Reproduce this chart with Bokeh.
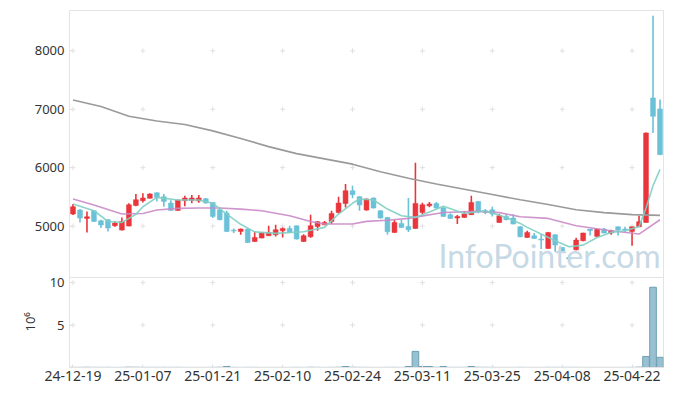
import numpy as np
from bokeh.plotting import figure
from bokeh.models import Range1d, FixedTicker, Label, Span, Title
from bokeh.embed import file_html
from bokeh.resources import INLINE

# ---- data ----
tick_idx = [0, 10, 20, 30, 40, 50, 60, 70, 80]
tick_labels = ["24-12-19", "25-01-07", "25-01-21", "25-02-10", "25-02-24",
               "25-03-11", "25-03-25", "25-04-08", "25-04-22"]
price_ticks = [5000, 6000, 7000, 8000]
vol_ticks = [5, 10]

opens = [5206, 5274, 5130, 5262, 5091, 5108, 5005, 4931, 5000, 5353,
         5434, 5474, 5571, 5502, 5394, 5268, 5434, 5440, 5428, 5468,
         5405, 5279, 5222, 4930, 4908, 4949, 4736, 4794, 4834, 4851,
         4920, 4960, 5005, 4736, 4817, 4993, 5022, 5079, 5233, 5388,
         5605, 5502, 5274, 5480, 5262, 5148, 4891, 5045, 4993, 4960,
         5233, 5348, 5388, 5309, 5194, 5137, 5148, 5194, 5422, 5262,
         5279, 5062, 5165, 5137, 4988, 4805, 4834, 4777, 4617, 4851,
         4633, 4462, 4593, 4748, 4948, 4823, 4948, 4880, 4988, 4948,
         4908, 4988, 5062, 7194, 7006]
highs = [5377, 5290, 5250, 5270, 5110, 5115, 5080, 5148, 5390, 5549,
         5560, 5560, 5575, 5549, 5440, 5450, 5520, 5530, 5530, 5480,
         5410, 5319, 5260, 4960, 4960, 4960, 4908, 4890, 5005, 5022,
         4975, 5005, 5010, 4860, 5194, 5085, 5085, 5262, 5502, 5720,
         5690, 5510, 5470, 5490, 5270, 5155, 5108, 5108, 5480, 6085,
         5400, 5410, 5410, 5330, 5220, 5190, 5250, 5520, 5430, 5290,
         5330, 5205, 5205, 5200, 4995, 4920, 4880, 4863, 4895, 4860,
         4640, 4500, 4800, 4885, 4950, 4950, 4965, 4935, 4992, 4990,
         4990, 5177, 6600, 8600, 7166]
lows = [5190, 5062, 4890, 5070, 4966, 4908, 4990, 4925, 4995, 5340,
        5405, 5470, 5422, 5331, 5260, 5262, 5337, 5390, 5400, 5380,
        5137, 5100, 4900, 4880, 4851, 4710, 4730, 4790, 4830, 4820,
        4805, 4885, 4770, 4730, 4800, 4920, 5015, 5034, 5216, 5319,
        5475, 5262, 5260, 5300, 5130, 4850, 4885, 4970, 4900, 4955,
        5200, 5320, 5300, 5160, 5125, 5034, 5140, 5190, 5220, 5200,
        5165, 5055, 5100, 5030, 4810, 4800, 4780, 4605, 4610, 4560,
        4540, 4400, 4585, 4740, 4840, 4818, 4875, 4850, 4840, 4895,
        4662, 4985, 5055, 6594, 6220]
closes = [5331, 5137, 5160, 5079, 5017, 4966, 5051, 5079, 5365, 5451,
          5480, 5549, 5491, 5422, 5268, 5446, 5480, 5480, 5480, 5394,
          5165, 5108, 4908, 4915, 4949, 4719, 4805, 4885, 4890, 4937,
          4960, 4891, 4777, 4834, 5005, 5074, 5062, 5216, 5394, 5605,
          5537, 5360, 5463, 5309, 5137, 4903, 5062, 4977, 4937, 5388,
          5365, 5377, 5309, 5165, 5131, 5165, 5205, 5405, 5245, 5233,
          5205, 5177, 5108, 5034, 4817, 4891, 4788, 4760, 4891, 4674,
          4548, 4434, 4760, 4880, 4920, 4948, 4880, 4920, 4931, 4931,
          4988, 5074, 6594, 6880, 6223]
# volume in millions of shares
volumes = [0.02, 0.02, 0.03, 0.02, 0.02, 0.02, 0.01, 0.02, 0.04, 0.03,
           0.02, 0.02, 0.02, 0.02, 0.02, 0.02, 0.01, 0.01, 0.01, 0.01,
           0.02, 0.03, 0.12, 0.02, 0.01, 0.02, 0.02, 0.01, 0.01, 0.01,
           0.01, 0.01, 0.02, 0.01, 0.03, 0.02, 0.01, 0.02, 0.03, 0.12,
           0.03, 0.02, 0.02, 0.01, 0.01, 0.02, 0.02, 0.01, 0.12, 1.90,
           0.12, 0.12, 0.03, 0.12, 0.02, 0.02, 0.02, 0.12, 0.03, 0.02,
           0.02, 0.01, 0.01, 0.01, 0.02, 0.01, 0.01, 0.01, 0.02, 0.02,
           0.02, 0.02, 0.02, 0.01, 0.01, 0.01, 0.01, 0.01, 0.01, 0.01,
           0.02, 0.04, 1.30, 9.45, 1.20]

ma5_idx = [0, 3, 5, 7, 9, 10, 12, 15, 18, 20, 22, 24, 26, 29, 33, 36, 38,
           40, 41, 43, 45, 47, 49, 51, 53, 56, 59, 62, 64, 65, 69, 71, 73,
           75, 77, 79, 81, 82, 83, 84]
ma5_val = [5377, 5262, 5079, 5062, 5200, 5330, 5491, 5446, 5446, 5390, 5206,
           5030, 4900, 4874, 4903, 4977, 5206, 5390, 5463, 5446, 5291, 5177,
           5148, 5240, 5340, 5216, 5262, 5148, 5045, 4977, 4748, 4645, 4674,
           4805, 4891, 4920, 4990, 5310, 5690, 5970]
ma20_idx = [0, 3, 7, 10, 12, 15, 18, 21, 24, 27, 31, 34, 36, 40, 42, 45,
            48, 53, 58, 61, 64, 68, 72, 77, 81, 84]
ma20_val = [5463, 5360, 5206, 5216, 5274, 5302, 5309, 5309, 5290, 5262, 5177,
            5079, 5034, 5034, 5080, 5100, 5131, 5233, 5251, 5230, 5160, 5131,
            5005, 4920, 4863, 5108]
ma60_idx = [0, 4, 8, 12, 16, 20, 24, 28, 32, 36, 40, 44, 48, 52, 56, 60, 64,
            68, 72, 76, 80, 84]
ma60_val = [7157, 7046, 6880, 6800, 6740, 6630, 6500, 6360, 6240, 6150, 6060,
            5930, 5820, 5720, 5630, 5540, 5450, 5370, 5280, 5230, 5195, 5182]

# ---- styling / layout ----
RED = "#E9353B"
BLUE = "#6AC1D8"
FONT = "Noto Sans"
TXT = "#333333"
GRIDC = "#e0e0e0"
FRAMEC = "#e4e4e4"

PRICE_LO, PRICE_HI = 4119, 8691      # visible price band (upper panel)
VOL_HI = 10.6                        # visible volume band (lower panel)
PRICE_PX, VOL_PX = 267, 90           # pixel heights of the two panels

n = len(opens)
idx = np.arange(n)
o = np.array(opens, float)
c = np.array(closes, float)
colors = [RED if cc >= oo else BLUE for oo, cc in zip(o, c)]
body_top = np.maximum(o, c)
body_bot = np.minimum(o, c)

# one frame, two stacked panels: the price range is extended downwards and
# the volume range upwards so each occupies its own band of the frame
total_px = PRICE_PX + VOL_PX
p_full_lo = PRICE_LO - (PRICE_HI - PRICE_LO) * VOL_PX / PRICE_PX
v_full_hi = VOL_HI * total_px / VOL_PX

p = figure(width=665, height=390, x_range=Range1d(-0.5, n - 0.5),
           y_range=Range1d(p_full_lo, PRICE_HI),
           output_backend="svg", toolbar_location=None,
           min_border_left=69, min_border_right=2, min_border_top=10,
           min_border_bottom=23)
p.extra_y_ranges = {"vol": Range1d(0, v_full_hi)}
p.outline_line_color = FRAMEC
p.xgrid.grid_line_color = None
p.ygrid.grid_line_color = None

def vol_to_price(vv):
    return p_full_lo + (np.asarray(vv, float) / v_full_hi) * (PRICE_HI - p_full_lo)

# left axis: price ticks above, volume ticks (mapped) below
vt_pos = [float(x) for x in vol_to_price(vol_ticks)]
yax = p.yaxis[0]
yax.ticker = FixedTicker(ticks=vt_pos + price_ticks)
yax.major_label_overrides = {**{pos: str(t) for pos, t in zip(vt_pos, vol_ticks)},
                             **{t: str(t) for t in price_ticks}}
xax = p.xaxis[0]
xax.ticker = FixedTicker(ticks=tick_idx)
xax.major_label_overrides = {t: l for t, l in zip(tick_idx, tick_labels)}
xax.major_label_standoff = 3
for ax, fs in ((yax, "13px"), (xax, "14px")):
    ax.major_label_text_font = FONT
    ax.major_label_text_font_size = fs
    ax.major_label_text_color = TXT
    ax.axis_line_color = FRAMEC
    ax.major_tick_line_color = GRIDC
    ax.major_tick_out = 0
    ax.major_tick_in = 3
    ax.minor_tick_line_color = None

# volume unit label (vertical, beside the lower panel)
p.add_layout(Title(text="10\u2076", align="left", offset=36,
                   text_font=FONT, text_font_size="13px",
                   text_font_style="normal", text_color=TXT,
                   standoff=-15), "left")

# panel separator
p.add_layout(Span(location=PRICE_LO, dimension="width", line_color=FRAMEC,
                  line_width=1))

# grid crosses
gx, gy = np.meshgrid(tick_idx, price_ticks)
p.scatter(gx.ravel(), gy.ravel(), marker="cross", size=5, line_color=GRIDC)
vx, vy = np.meshgrid(tick_idx, vol_ticks)
p.scatter(vx.ravel(), vy.ravel(), marker="cross", size=5, line_color=GRIDC,
          y_range_name="vol")

# candles
p.segment(x0=idx, y0=lows, x1=idx, y1=highs, line_color=colors, line_width=1.6)
p.vbar(x=idx, width=0.7, top=body_top, bottom=body_bot, fill_color=colors,
       line_color=colors, line_width=0.5)

# moving averages
p.line(ma60_idx, ma60_val, line_color="#9a9a9a", line_width=1.6)
p.line(ma20_idx, ma20_val, line_color="#C98BC8", line_width=1.6, line_alpha=0.9)
p.line(ma5_idx, ma5_val, line_color="#7FCFC3", line_width=1.6, line_alpha=0.9)

# volume
p.vbar(x=idx, width=0.95, top=volumes, bottom=0, fill_color="#98C0D0",
       line_color="#6E9FB5", line_width=1, y_range_name="vol")

# watermark
p.add_layout(Label(x=52.3, y=4500, text="InfoPointer.com", text_font="Lato",
                   text_font_size="32px", text_color="#C6D9E5",
                   text_baseline="middle", text_align="left"))

open("out.html", "w").write(file_html(p, INLINE))
